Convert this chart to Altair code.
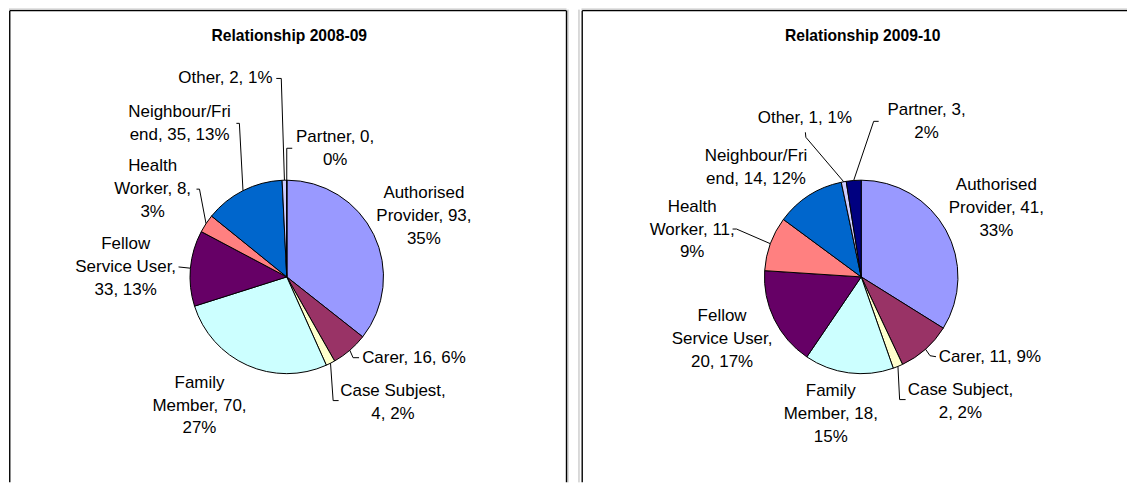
import math
import altair as alt
import pandas as pd

# ---------------- data ----------------
categories = ["Authorised Provider", "Carer", "Case Subject", "Family Member",
              "Fellow Service User", "Health Worker", "Neighbour/Friend",
              "Other", "Partner"]
names_0809 = ["Authorised\nProvider", "Carer", "Case Subjest", "Family\nMember",
              "Fellow\nService User", "Health\nWorker", "Neighbour/Fri\nend",
              "Other", "Partner"]
names_0910 = ["Authorised\nProvider", "Carer", "Case Subject", "Family\nMember",
              "Fellow\nService User", "Health\nWorker", "Neighbour/Fri\nend",
              "Other", "Partner"]
values_0809 = [93, 16, 4, 70, 33, 8, 35, 2, 0]
pct_0809 = [35, 6, 2, 27, 13, 3, 13, 1, 0]
values_0910 = [41, 11, 2, 18, 20, 11, 14, 1, 3]
pct_0910 = [33, 9, 2, 15, 17, 9, 12, 1, 2]
titles = ["Relationship 2008-09", "Relationship 2009-10"]
colors = ["#9999FF", "#993366", "#FFFFCC", "#CCFFFF", "#660066",
          "#FF8080", "#0066CC", "#CCCCFF", "#000080"]

# label wrapping (separator after name, separator after value)
sep_name = [" ", " ", "\n", " ", "\n", " ", " ", " ", " "]
sep_value = ["\n", " ", " ", "\n", " ", "\n", " ", " ", "\n"]

# ---------------- layout ----------------
PANEL_H = 475
PIE_R = 97
EDGE_R = 97
FONT = "Liberation Sans"
LINE_H = 23

label_off_0809 = [(137.5, -61), (127.5, 81), (106.5, 125.5), (-87.5, 129),
                  (-161.5, -10), (-134.5, -88), (-107.5, -153.5),
                  (-61.5, -199), (48.5, -128.5)]
leader_0809 = [None, [(66.5, 81), (72.5, 81)], [(46.5, 124), (52, 124)], None,
               [(-108.5, -10)], [(-87.5, -88), (-90.5, -88)],
               [(-47.5, -154), (-50.5, -154)], [(-5.5, -199), (-10.5, -199)],
               [(0, -129), (5.5, -129)]]
label_off_0910 = [(135.5, -69), (129, 80), (99.5, 124.5), (-30.5, 137.5),
                  (-139.5, 62), (-169.5, -47.5), (-105.5, -109.5),
                  (-56.5, -159), (65.5, -155.5)]
leader_0910 = [None, [(69, 79), (75, 80)], [(38.5, 123), (44.5, 123)], None,
               None, [(-125, -48), (-129, -48)], None,
               [(-55.5, -140), (-56, -145)], [(12.5, -156), (17.5, -156)]]

panels = [
    dict(width=573, cx=278.5, cy=269, tx=281, names=names_0809,
         values=values_0809, pct=pct_0809, off=label_off_0809,
         lead=leader_0809, title=titles[0],
         borders=[(0.75, 0.75, 2, PANEL_H), (0.75, 559, 2, 2),
                  (559, 559, 2, PANEL_H)],
         greys=[(0, 559, 0.5, 0.5), (560.5, 560.5, 1, PANEL_H),
                (571.5, 571.5, 1, PANEL_H)]),
    dict(width=547, cx=280.5, cy=269, tx=282, names=names_0910,
         values=values_0910, pct=pct_0910, off=label_off_0910,
         lead=leader_0910, title=titles[1],
         borders=[(0.75, 0.75, 2, PANEL_H), (0.75, 547, 2, 2)],
         greys=[(0, 547, 0.5, 0.5)]),
]


def make_panel(p):
    W = p["width"]
    cx, cy = p["cx"], p["cy"]
    xs = alt.Scale(domain=[0, W], range=[0, W])
    ys = alt.Scale(domain=[0, PANEL_H], range=[0, PANEL_H])

    pie_df = pd.DataFrame({"category": categories, "value": p["values"],
                           "order": list(range(len(categories)))})
    arcs = alt.Chart(pie_df).mark_arc(
        radius=PIE_R, stroke="black", strokeWidth=1
    ).encode(
        theta=alt.Theta("value:Q", stack=True),
        color=alt.Color("category:N", scale=alt.Scale(domain=categories, range=colors),
                        legend=None),
        order=alt.Order("order:Q"),
        x=alt.value(cx), y=alt.value(cy),
    )

    total = sum(p["values"])
    cum = 0
    lab_rows, lead_rows = [], []
    for i, v in enumerate(p["values"]):
        mid = (cum + v / 2) / total * 2 * math.pi
        cum += v
        text = f"{p['names'][i]},{sep_name[i]}{v},{sep_value[i]}{p['pct'][i]}%"
        n_lines = text.count("\n") + 1
        dx, dy = p["off"][i]
        lab_rows.append({"px": cx + dx,
                         "py": cy + dy - (n_lines - 1) * LINE_H / 2,
                         "text": text})
        if p["lead"][i]:
            pts = [(EDGE_R * math.sin(mid), -EDGE_R * math.cos(mid))] + p["lead"][i]
            for s, (lx, ly) in enumerate(pts):
                lead_rows.append({"id": i, "seq": s, "px": cx + lx, "py": cy + ly})

    lab_df = pd.DataFrame(lab_rows)
    lead_df = pd.DataFrame(lead_rows)

    labels = alt.Chart(lab_df).mark_text(
        font=FONT, fontSize=17, lineBreak="\n", lineHeight=LINE_H,
        align="center", baseline="middle", color="black"
    ).encode(
        x=alt.X("px:Q", scale=xs, axis=None),
        y=alt.Y("py:Q", scale=ys, axis=None),
        text="text:N",
    )
    leaders = alt.Chart(lead_df).mark_line(color="black", strokeWidth=1).encode(
        x=alt.X("px:Q", scale=xs, axis=None),
        y=alt.Y("py:Q", scale=ys, axis=None),
        detail="id:N",
        order="seq:Q",
    )

    one = pd.DataFrame({"k": [0]})
    title = alt.Chart(one).mark_text(
        font=FONT, fontSize=15.7, fontWeight="bold", align="center",
        baseline="alphabetic", color="black"
    ).encode(x=alt.value(p["tx"]), y=alt.value(32), text=alt.value(p["title"]))

    layers = [arcs, leaders, labels, title]
    for (x1, x2, y1, y2) in p["greys"]:
        layers.append(alt.Chart(one).mark_rule(color="#b4b4b4", strokeWidth=1).encode(
            x=alt.value(x1), x2=alt.value(x2), y=alt.value(y1), y2=alt.value(y2)))
    for (x1, x2, y1, y2) in p["borders"]:
        layers.append(alt.Chart(one).mark_rule(color="black", strokeWidth=1.4).encode(
            x=alt.value(x1), x2=alt.value(x2), y=alt.value(y1), y2=alt.value(y2)))

    return alt.layer(*layers).properties(width=W, height=PANEL_H)


chart = alt.hconcat(*[make_panel(p) for p in panels], spacing=0).properties(
    padding=0
).configure_view(stroke=None)

chart.save("out.html", embed_options={"renderer": "svg", "actions": False})
